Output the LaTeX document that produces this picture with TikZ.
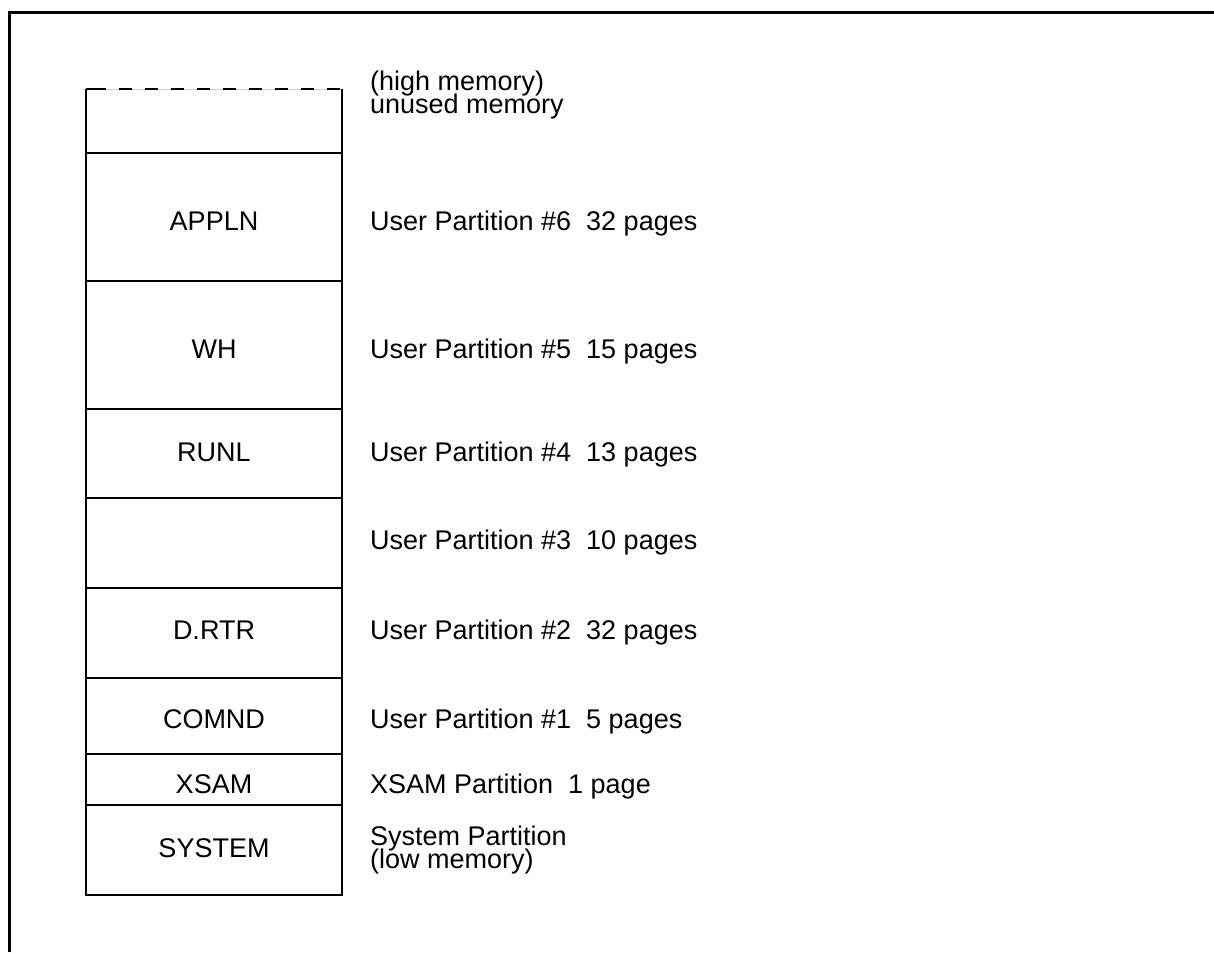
\documentclass[tikz,border=0pt]{standalone}
\usepackage{fontspec}
\setmainfont{Liberation Sans}
\newcommand\lblfont{\fontsize{27}{23}\selectfont}
\begin{document}
\begin{tikzpicture}[x=1pt,y=-1pt,line width=2.3pt,
  cell/.style={draw, minimum width=256pt, inner sep=0pt, outer sep=0pt, anchor=north},
  celltext/.style={anchor=base, inner sep=0pt, font=\lblfont},
  lbl/.style={anchor=base west, inner sep=0pt, font=\lblfont}]
\useasboundingbox (0,0) rectangle (1214,952);
% outer frame (only top and left visible)
\coordinate (fbl) at (9.5,952);
\coordinate (ftl) at (9.5,12.5);
\coordinate (ftr) at (1214,12.5);
\draw (fbl) -- (ftl) -- (ftr);
% top cell: unused memory
\node[minimum width=256pt, minimum height=64pt, inner sep=0pt, outer sep=0pt, anchor=north] (unused) at (214,89) {};
\draw[gray!35, line width=0.6pt] (unused.north west) -- (unused.north east);
\draw (unused.north west) -- (unused.south west) -- (unused.south east) -- (unused.north east);
\draw (unused.north west) -- ++(20,0);
\draw[dash pattern=on 13pt off 13pt] ([xshift=33pt]unused.north west) -- (unused.north east);
% cells
\node[cell, minimum height=128pt] (appln) at (214,153) {};
\node[cell, minimum height=128pt] (wh) at (214,281) {};
\node[cell, minimum height=89pt] (runl) at (214,409) {};
\node[cell, minimum height=90pt] (p3) at (214,498) {};
\node[cell, minimum height=90pt] (drtr) at (214,588) {};
\node[cell, minimum height=76pt] (comnd) at (214,678) {};
\node[cell, minimum height=51pt] (xsam) at (214,754) {};
\node[cell, minimum height=90pt] (system) at (214,805) {};
% cell texts
\node[celltext] (tappln) at (214,230) {APPLN};
\node[celltext] (twh) at (214,358) {WH};
\node[celltext] (trunl) at (214,461) {RUNL};
\node[celltext] (tdrtr) at (214,639) {D.RTR};
\node[celltext] (tcomnd) at (214,728) {COMND};
\node[celltext] (txsam) at (214,793) {XSAM};
\node[celltext] (tsystem) at (214,857) {SYSTEM};
% labels
\node[lbl] (lhigh) at (369,91) {(high memory)};
\node[lbl] (lunused) at (369,114) {unused memory};
\node[lbl] (l6) at (369,230) {User Partition \#6\ \ 32 pages};
\node[lbl] (l5) at (369,358) {User Partition \#5\ \ 15 pages};
\node[lbl] (l4) at (369,461) {User Partition \#4\ \ 13 pages};
\node[lbl] (l3) at (369,549) {User Partition \#3\ \ 10 pages};
\node[lbl] (l2) at (369,639) {User Partition \#2\ \ 32 pages};
\node[lbl] (l1) at (369,728) {User Partition \#1\ \ 5 pages};
\node[lbl] (lx) at (369,793) {XSAM Partition\ \ 1 page};
\node[lbl] (lsys) at (369,845) {System Partition};
\node[lbl] (llow) at (369,868) {(low memory)};
\end{tikzpicture}
\end{document}
